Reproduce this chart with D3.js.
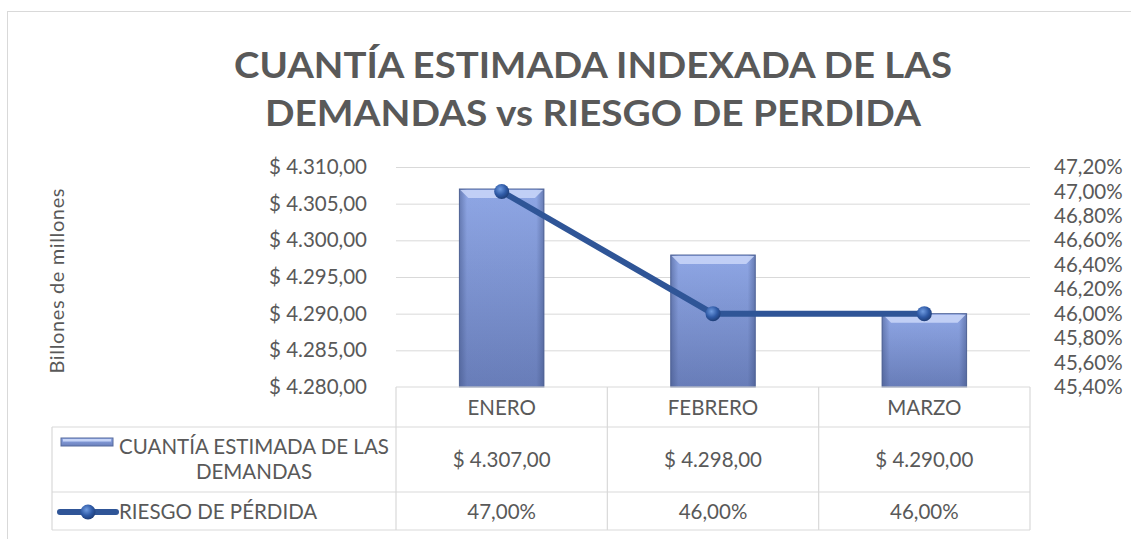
<!DOCTYPE html>
<html>
<head>
<meta charset="utf-8">
<script src="https://cdn.jsdelivr.net/npm/d3@7"></script>
<style>
  body { margin: 0; background: #fff; }
  svg text { font-family: Lato, "Open Sans", sans-serif; fill: #595959; }
</style>
</head>
<body>
<div id="chart"></div>
<script>
// data
var months = ["ENERO", "FEBRERO", "MARZO"];
var cuantia = [4307, 4298, 4290];
var riesgo = [0.47, 0.46, 0.46];
var leftTicks = [4280, 4285, 4290, 4295, 4300, 4305, 4310];
var rightTicks = [0.454, 0.456, 0.458, 0.460, 0.462, 0.464, 0.466, 0.468, 0.470, 0.472];
var seriesBar = ["CUANTÍA ESTIMADA DE LAS", "DEMANDAS"];
var seriesLine = "RIESGO DE PÉRDIDA";
var titleLines = ["CUANTÍA ESTIMADA INDEXADA DE LAS", "DEMANDAS vs RIESGO DE PERDIDA"];
var yTitle = "Billones de millones";

var W = 1131, H = 539;
var plot = {left: 396, right: 1030, top: 167, bottom: 387};
var rows = [387, 427, 492, 530]; // table row lines
var tableLeft = 52;
var grey = "#d9d9d9";

var loc = d3.formatLocale({decimal: ",", thousands: ".", grouping: [3], currency: ["$ ", ""]});
var fmtMoney = loc.format("$,.2f");
var fmtPct = loc.format(".2%");

var svg = d3.select("#chart").append("svg")
  .attr("width", W)
  .attr("height", H);

var defs = svg.append("defs");
var gv = defs.append("linearGradient").attr("id", "barV").attr("x1", 0).attr("y1", 0).attr("x2", 0).attr("y2", 1);
gv.append("stop").attr("offset", "0%").attr("stop-color", "#93abea");
gv.append("stop").attr("offset", "100%").attr("stop-color", "#6a7fbb");
var gh = defs.append("linearGradient").attr("id", "barH").attr("x1", 0).attr("y1", 0).attr("x2", 1).attr("y2", 0);
gh.append("stop").attr("offset", "0%").attr("stop-color", "#3d4f80").attr("stop-opacity", 0.5);
gh.append("stop").attr("offset", "9%").attr("stop-color", "#3d4f80").attr("stop-opacity", 0.05);
gh.append("stop").attr("offset", "91%").attr("stop-color", "#3d4f80").attr("stop-opacity", 0.05);
gh.append("stop").attr("offset", "100%").attr("stop-color", "#3d4f80").attr("stop-opacity", 0.5);
var gm = defs.append("radialGradient").attr("id", "dot").attr("cx", "40%").attr("cy", "35%").attr("r", "65%");
gm.append("stop").attr("offset", "0%").attr("stop-color", "#6f9be0");
gm.append("stop").attr("offset", "60%").attr("stop-color", "#2f5aa6");
gm.append("stop").attr("offset", "100%").attr("stop-color", "#1f3f7a");

// outer frame
svg.append("rect")
  .attr("x", 7.5).attr("y", 11.5)
  .attr("width", W + 20).attr("height", H + 20)
  .attr("fill", "none").attr("stroke", grey);

// title
var titleWidths = [718, 656];
svg.append("g").selectAll("text")
  .data(titleLines)
  .join("text")
  .attr("x", 593)
  .attr("y", function(d, i) { return 78 + i * 48; })
  .attr("text-anchor", "middle")
  .attr("textLength", function(d, i) { return titleWidths[i]; })
  .attr("lengthAdjust", "spacingAndGlyphs")
  .style("font-size", "37px")
  .style("font-weight", "bold")
  .text(function(d) { return d; });

var x = d3.scaleBand()
  .domain(months)
  .range([plot.left, plot.right])
  .paddingInner(0)
  .paddingOuter(0);

var yL = d3.scaleLinear()
  .domain([4280, 4310])
  .range([plot.bottom, plot.top]);

var yR = d3.scaleLinear()
  .domain([0.454, 0.472])
  .range([plot.bottom, plot.top]);

// gridlines
svg.append("g")
  .attr("class", "grid")
  .attr("transform", "translate(" + plot.left + ",0)")
  .call(d3.axisLeft(yL).tickValues(leftTicks.slice(1)).tickSize(-(plot.right - plot.left)).tickFormat(""))
  .call(function(g) { g.select(".domain").remove(); })
  .selectAll("line").attr("stroke", grey);

// left axis
svg.append("g")
  .attr("transform", "translate(" + plot.left + ",0)")
  .call(d3.axisLeft(yL).tickValues(leftTicks).tickSize(0).tickPadding(29).tickFormat(fmtMoney))
  .call(function(g) { g.select(".domain").remove(); })
  .selectAll("text")
  .style("font-size", "20.5px")
  .style("font-family", "Lato, sans-serif")
  .attr("fill", "#595959");

// right axis
svg.append("g")
  .attr("transform", "translate(" + plot.right + ",0)")
  .call(d3.axisRight(yR).tickValues(rightTicks).tickSize(0).tickPadding(24).tickFormat(fmtPct))
  .call(function(g) { g.select(".domain").remove(); })
  .selectAll("text")
  .style("font-size", "20.5px")
  .style("font-family", "Lato, sans-serif")
  .attr("fill", "#595959");

// y axis title
svg.append("text")
  .attr("transform", "translate(56," + ((plot.top + plot.bottom) / 2 + 4) + ") rotate(-90)")
  .attr("text-anchor", "middle")
  .attr("dominant-baseline", "central")
  .attr("textLength", 185)
  .style("font-size", "20px")
  .text(yTitle);

// bars
var bw = x.bandwidth() * 0.4;
var bars = svg.append("g").selectAll("g")
  .data(cuantia)
  .join("g")
  .attr("transform", function(d, i) { return "translate(" + (x(months[i]) + (x.bandwidth() - bw) / 2) + "," + yL(d) + ")"; });

bars.append("rect")
  .attr("width", bw)
  .attr("height", function(d) { return plot.bottom - yL(d); })
  .attr("fill", "url(#barV)")
  .attr("stroke", "#566a9c")
  .attr("stroke-width", 1);
bars.append("rect")
  .attr("width", bw)
  .attr("height", function(d) { return plot.bottom - yL(d); })
  .attr("fill", "url(#barH)");
bars.append("path")
  .attr("d", "M1,1 L" + (bw - 1) + ",1 L" + (bw - 9) + ",9 L9,9 Z")
  .attr("fill", "#c6d4f7")
  .attr("opacity", 0.9);

// line
var line = d3.line()
  .x(function(d, i) { return x(months[i]) + x.bandwidth() / 2; })
  .y(function(d) { return yR(d); });

svg.append("path")
  .datum(riesgo)
  .attr("d", line)
  .attr("fill", "none")
  .attr("stroke", "#2f5597")
  .attr("stroke-width", 6);

svg.append("g").selectAll("circle")
  .data(riesgo)
  .join("circle")
  .attr("cx", function(d, i) { return x(months[i]) + x.bandwidth() / 2; })
  .attr("cy", function(d) { return yR(d); })
  .attr("r", 7.5)
  .attr("fill", "url(#dot)");

// data table
var tbl = svg.append("g").attr("stroke", grey).attr("stroke-width", 1.2);
tbl.append("line").attr("x1", plot.left).attr("x2", plot.right).attr("y1", rows[0]).attr("y2", rows[0]);
rows.slice(1).forEach(function(r) {
  tbl.append("line").attr("x1", tableLeft).attr("x2", plot.right).attr("y1", r).attr("y2", r);
});
tbl.append("line").attr("x1", tableLeft).attr("x2", tableLeft).attr("y1", rows[1]).attr("y2", rows[3]);
months.forEach(function(m) {
  tbl.append("line").attr("x1", x(m)).attr("x2", x(m)).attr("y1", rows[0]).attr("y2", rows[3]);
});
tbl.append("line").attr("x1", plot.right).attr("x2", plot.right).attr("y1", rows[0]).attr("y2", rows[3]);

var cellFont = "20.5px";
svg.append("g").selectAll("text")
  .data(months)
  .join("text")
  .attr("x", function(d) { return x(d) + x.bandwidth() / 2; })
  .attr("y", 415)
  .attr("text-anchor", "middle")
  .style("font-size", cellFont)
  .text(function(d) { return d; });

svg.append("g").selectAll("text")
  .data(cuantia)
  .join("text")
  .attr("x", function(d, i) { return x(months[i]) + x.bandwidth() / 2; })
  .attr("y", 467)
  .attr("text-anchor", "middle")
  .style("font-size", cellFont)
  .text(function(d) { return fmtMoney(d); });

svg.append("g").selectAll("text")
  .data(riesgo)
  .join("text")
  .attr("x", function(d, i) { return x(months[i]) + x.bandwidth() / 2; })
  .attr("y", 519)
  .attr("text-anchor", "middle")
  .style("font-size", cellFont)
  .text(function(d) { return fmtPct(d); });

// legend keys inside the table
var lg = svg.append("g");
lg.append("rect")
  .attr("x", 61).attr("y", 438).attr("width", 52).attr("height", 8)
  .attr("fill", "url(#barV)").attr("stroke", "#566a9c");
lg.append("rect")
  .attr("x", 63).attr("y", 439).attr("width", 48).attr("height", 2.5)
  .attr("fill", "#c6d4f7");
seriesBar.forEach(function(t, i) {
  lg.append("text")
    .attr("x", 254).attr("y", 454 + i * 25)
    .attr("text-anchor", "middle")
    .style("font-size", cellFont)
    .text(t);
});
lg.append("line")
  .attr("x1", 60).attr("x2", 116).attr("y1", 512).attr("y2", 512)
  .attr("stroke", "#2f5597").attr("stroke-width", 6).attr("stroke-linecap", "round");
lg.append("circle")
  .attr("cx", 88).attr("cy", 512).attr("r", 7.5)
  .attr("fill", "url(#dot)");
lg.append("text")
  .attr("x", 119).attr("y", 519)
  .style("font-size", cellFont)
  .text(seriesLine);
</script>
</body>
</html>
